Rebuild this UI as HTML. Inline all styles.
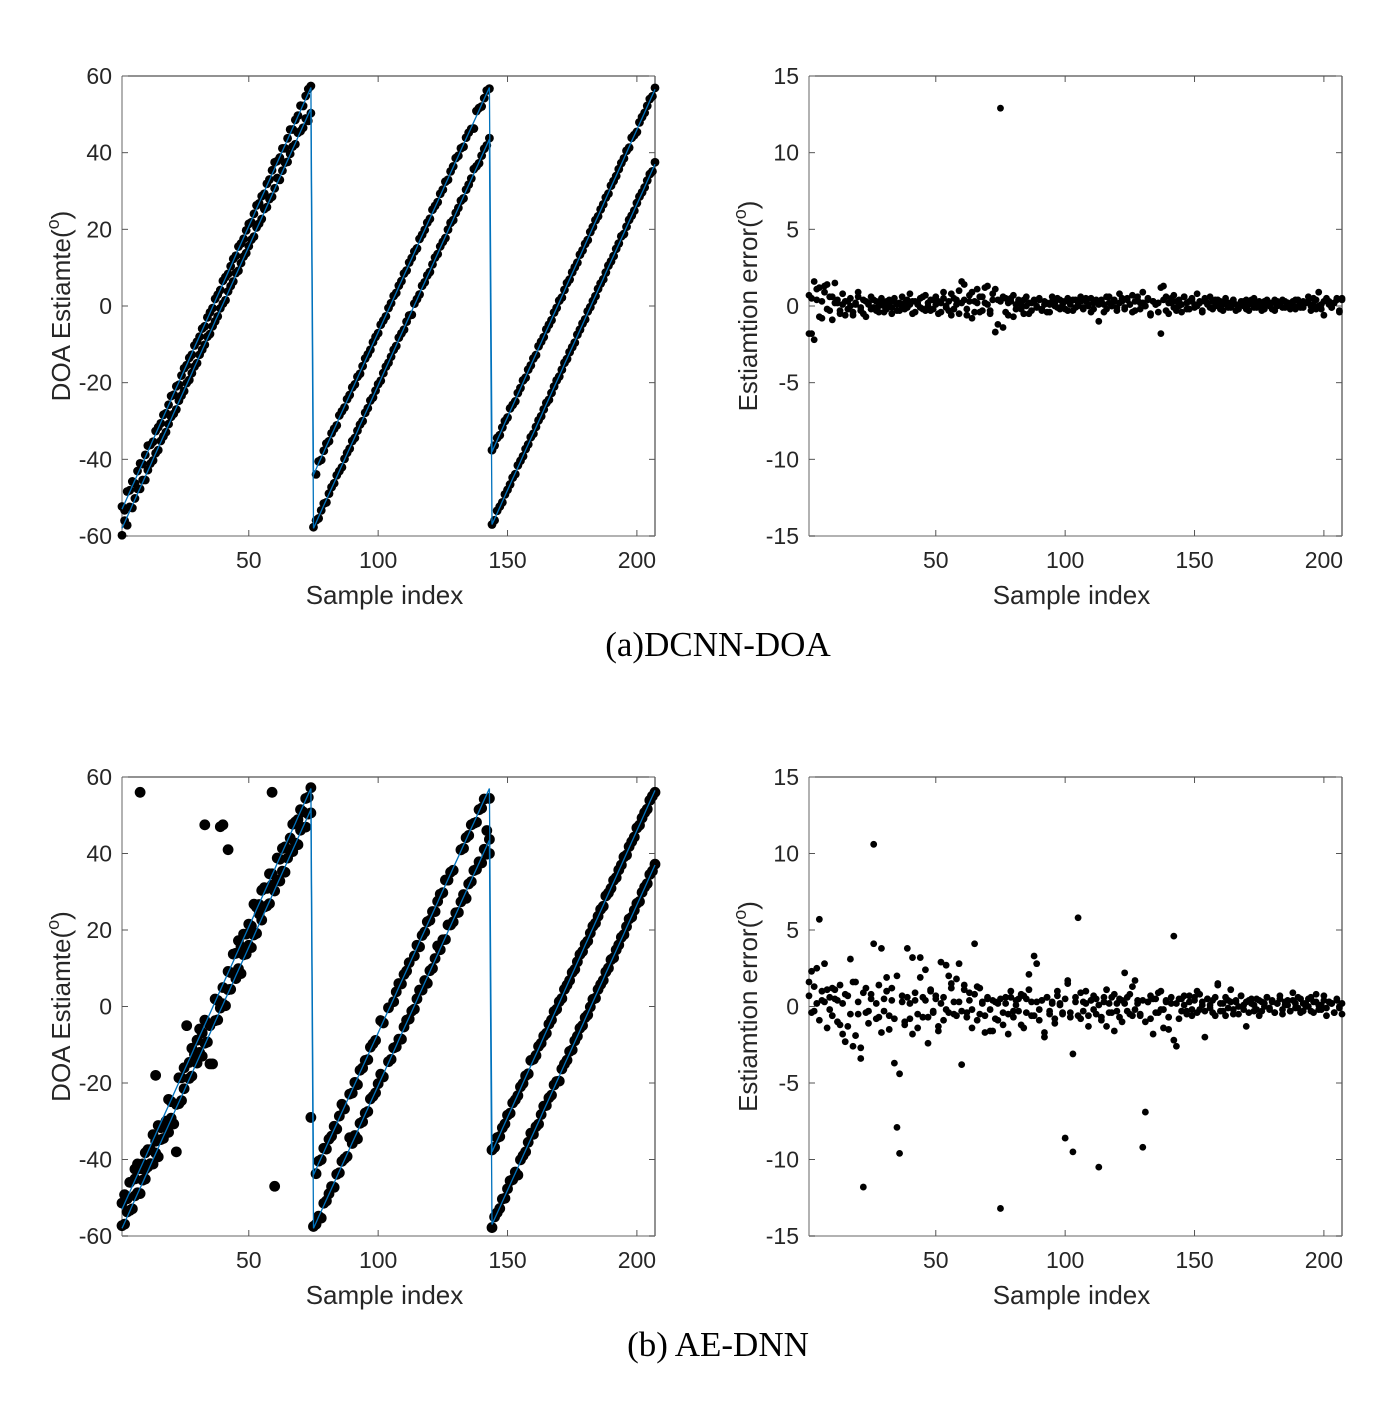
<!DOCTYPE html>
<html><head><meta charset="utf-8"><style>
body{margin:0;background:#fff}
svg text{font-family:"Liberation Sans",Arial,sans-serif;fill:#262626}
</style></head><body>
<svg id="fig" width="1398" height="1400" xmlns="http://www.w3.org/2000/svg">
<text x="718" y="656" text-anchor="middle" style="font-family:'Liberation Serif',serif;font-size:35px;fill:#000">(a)DCNN-DOA</text>
<text x="718" y="1356" text-anchor="middle" style="font-family:'Liberation Serif',serif;font-size:35px;fill:#000">(b) AE-DNN</text>
</svg>
<script>
// truth segments
const segStart=[1,75,144], segEnd=[74,143,207];
const aStart=[-53,-44,-38], aEnd=[57,57,56.5];
const bStart=[-58,-58,-57], bEnd=[51.5,43.5,37];
const xTicks=[50,100,150,200];
const doaTicks=[-60,-40,-20,0,20,40,60];
const errTicks=[-15,-10,-5,0,5,10,15];

const topErrA=[0.7,-1.8,1.6,0.4,1.2,-0.8,0.9,1.4,-0.3,0.6,1.5,0.2,-0.5,0.8,0.3,-0.2,0.5,-0.6,0.1,0.9,-0.3,0.4,-0.7,0.2,0.6,-0.1,0.3,-0.4,0.5,0.0,-0.2,0.4,-0.5,0.3,0.1,-0.3,0.6,0.2,-0.1,0.8,0.3,-0.4,0.1,0.5,-0.2,0.7,0.0,-0.3,0.4,0.6,-0.5,0.2,0.9,-0.1,0.3,-0.6,0.5,0.1,1.0,1.6,0.4,-0.2,0.7,-0.8,0.3,1.1,-0.4,0.6,0.2,1.3,-0.3,0.8,1.1,0.4,12.9,-1.4,0.5,-0.6,0.3,0.7,-0.2,0.4,0.1,-0.5,0.6,0.2,-0.3,0.4,0.0,0.5,-0.2,0.3,-0.4,0.1,0.6,0.2,-0.1,0.4,0.3,-0.2,0.5,0.1,-0.3,0.4,0.2,0.6,-0.1,0.3,0.0,0.5,-0.2,0.4,0.1,0.3,-0.4,0.6,0.2,0.0,0.4,-0.1,0.8,0.3,-0.2,0.5,0.1,0.7,-0.3,0.4,0.2,0.9,0.0,0.5,-0.6,0.3,0.1,-0.4,-1.8,1.3,0.6,-0.5,0.2,0.7,-0.3,0.4,0.1,0.6,-0.2,0.3,0.5,-0.1,0.8,0.2,-0.4,0.3,0.1,0.6,-0.2,0.4,0.0,0.3,-0.3,0.5,0.2,-0.1,0.4,0.1,-0.2,0.3,0.0,0.4,-0.3,0.2,0.5,-0.1,0.3,0.1,-0.2,0.4,0.0,0.2,-0.3,0.3,0.1,0.4,-0.1,0.2,0.0,0.3,-0.2,0.4,0.1,-0.1,0.2,0.3,0.0,0.5,-0.2,0.9,0.1,-0.6,0.4,0.3,-0.1,0.2,0.5,-0.3,0.4,0.1,0.3,-0.6];
const topErrB=[-1.8,0.5,-2.2,1.1,-0.7,0.3,1.3,-0.2,0.6,-0.9,0.2,0.4,-0.3,0.1,-0.6,0.3,0.0,-0.4,0.2,0.6,-0.1,-0.5,0.3,0.1,-0.2,0.4,-0.3,0.0,0.2,-0.4,0.3,0.1,-0.1,0.5,-0.3,0.2,0.0,-0.2,0.4,0.1,-0.5,0.3,0.2,-0.1,0.6,-0.3,0.2,0.4,-0.2,0.1,0.3,-0.4,0.5,0.0,-0.3,0.8,-0.2,0.4,-0.5,0.2,1.4,-0.6,0.3,0.9,-0.4,0.2,0.6,-0.3,1.2,0.1,-0.5,0.4,-1.7,-1.2,0.3,0.6,-0.4,0.2,0.5,-0.7,0.1,0.3,-0.2,0.4,0.0,-0.5,0.2,0.3,-0.1,0.4,-0.3,0.1,0.2,-0.4,0.3,0.0,0.5,-0.2,0.1,0.3,-0.3,0.2,0.4,-0.1,0.0,0.3,-0.2,0.5,0.1,-0.4,0.2,0.3,-1.0,0.4,0.1,-0.2,0.6,0.0,0.3,-0.3,0.2,0.5,-0.1,0.4,0.1,-0.4,0.3,0.6,-0.2,0.2,0.0,0.4,-0.5,0.3,0.1,0.2,1.2,0.4,-0.3,0.2,0.5,-0.1,0.3,0.0,-0.4,0.6,0.2,-0.2,0.4,0.1,0.0,0.3,-0.3,0.5,0.2,-0.1,0.3,0.0,0.4,-0.2,0.1,0.3,-0.1,0.2,0.4,-0.3,0.0,0.2,0.3,-0.2,0.1,0.4,-0.1,0.2,0.0,-0.3,0.3,0.1,0.2,-0.2,0.4,0.0,0.1,-0.1,0.3,0.2,-0.2,0.1,0.4,0.0,-0.1,0.3,0.2,0.6,-0.3,0.1,0.4,0.0,-0.2,0.3,0.5,0.1,-0.1,0.2,0.4,-0.4,0.5];
const botErrA=[1.6,2.3,-0.3,2.5,5.7,0.4,2.8,1.1,-0.2,1.2,0.5,-1.0,1.4,-1.8,0.8,-1.3,3.1,-2.6,1.6,-0.5,-3.4,-11.8,1.2,-0.3,0.8,10.6,-0.8,1.4,-1.7,0.5,1.9,-0.6,1.2,-3.7,-7.9,-9.6,0.7,-1.2,3.8,-0.8,3.2,0.4,-1.4,1.9,0.6,2.4,-0.7,1.1,-0.4,0.7,-1.3,2.9,0.6,-0.2,2.0,1.2,-0.5,1.8,0.3,-3.8,1.4,-0.4,0.9,-0.2,4.1,-0.9,1.2,0.3,-0.6,0.5,-1.6,0.4,-0.8,0.2,-13.2,-1.2,0.6,-0.5,1.0,-0.7,0.4,-0.3,0.8,-1.4,0.5,2.1,-0.6,3.3,0.3,-0.9,0.4,-1.7,0.6,-0.3,0.2,-1.1,0.7,0.1,-0.5,-8.6,1.7,-0.4,-9.5,0.6,5.8,-0.8,0.3,1.0,-0.6,0.4,-0.2,0.5,-10.5,-0.7,0.6,-1.3,0.2,-0.4,0.8,-0.3,0.5,-1.0,0.2,0.6,-0.5,1.3,-0.2,0.4,-0.6,-9.2,-6.9,0.3,-0.8,0.5,-0.4,0.9,-0.2,-1.4,0.4,-0.7,0.2,4.6,-2.6,0.5,-0.3,0.7,-0.5,0.3,-0.2,0.6,-0.4,0.8,0.1,-0.3,0.5,-0.1,0.4,-0.6,1.4,0.2,-0.3,0.6,-0.1,0.3,-0.5,0.4,0.0,0.7,-0.2,0.3,-0.4,0.5,0.1,-0.2,0.4,-0.3,0.2,0.6,-0.1,0.3,-0.4,0.2,0.5,-0.2,0.1,0.4,-0.3,0.9,0.2,-0.1,0.5,-0.3,0.2,0.0,0.6,-0.4,0.3,0.1,-0.2,0.7,-0.1,0.3,0.2,-0.4,0.4,0.0,-0.5,0.6];
const botErrB=[0.7,-0.4,1.3,0.2,-0.9,1.0,0.3,-1.4,0.6,-0.6,1.1,0.4,-1.2,0.2,-2.3,0.7,-0.5,1.6,-1.9,0.3,-2.7,0.9,-0.4,-1.1,0.5,4.1,0.2,-0.7,3.8,-0.3,1.0,-1.5,0.4,-0.8,2.0,-4.4,0.3,-1.0,0.6,0.2,-1.8,0.9,-0.5,3.2,-0.7,0.4,-2.4,1.0,-0.3,0.5,-1.6,0.2,-0.9,2.7,-0.4,1.5,0.3,-0.6,2.8,-0.3,1.1,-0.7,0.4,-1.4,0.8,1.3,-0.5,0.2,-1.7,0.6,-0.2,-1.6,0.3,-0.9,0.5,-0.4,0.2,-1.8,0.6,-0.3,0.1,0.5,-1.2,0.7,-0.4,1.1,0.3,-0.6,2.8,-0.2,0.4,-2.0,0.6,-0.5,0.3,-0.8,1.0,0.2,-0.4,0.5,1.5,-0.7,-3.1,0.3,-0.6,0.9,-0.3,0.2,-1.3,0.4,0.7,-0.5,0.1,-0.9,0.3,1.1,-0.4,0.6,-1.6,0.2,-0.7,0.4,2.2,-0.3,0.8,-0.6,1.7,0.2,-0.5,0.4,-1.0,0.3,0.7,-1.8,0.5,-0.4,1.0,-0.2,0.3,-1.5,0.6,-2.2,0.2,-0.8,0.5,0.1,-0.3,0.7,-0.6,0.4,1.0,-0.2,0.3,-2.0,0.5,0.1,-0.4,0.6,1.5,-0.3,0.2,-0.6,0.4,1.1,-0.2,0.3,-0.5,0.7,0.1,-1.3,0.4,0.2,-0.3,0.5,-0.6,0.3,0.0,0.6,-0.2,0.4,-0.4,0.2,0.7,-0.5,0.3,0.1,-0.3,0.4,-0.1,0.6,-0.4,0.2,0.0,0.5,-0.3,0.3,0.8,-0.2,0.1,0.4,-0.6,0.3,0.2,-0.4,0.5,-0.1,0.2,-0.5,0.3,0.6,-0.2];
// bottom-left outliers
const outX=[8,33,39,40,42,59,60,14,22,26,35,36,74,142,143,6,7,9,10];
const outY=[56,47.5,47,47.5,41,56,-47,-18,-38,-5,-15,-15,-29,46,40,-42.5,-42.5,-42.5,-42.5];

const NS="http://www.w3.org/2000/svg";
const svg=document.getElementById('fig');
function mk(tag,attrs,parent){const e=document.createElementNS(NS,tag);for(const k in attrs)e.setAttribute(k,attrs[k]);(parent||svg).appendChild(e);return e;}
function truthA(x){for(let s=0;s<3;s++){if(x>=segStart[s]&&x<=segEnd[s])return aStart[s]+(aEnd[s]-aStart[s])*(x-segStart[s])/(segEnd[s]-segStart[s]);}return null;}
function truthB(x){for(let s=0;s<3;s++){if(x>=segStart[s]&&x<=segEnd[s])return bStart[s]+(bEnd[s]-bStart[s])*(x-segStart[s])/(segEnd[s]-segStart[s]);}return null;}

function panel(name,L,R,T,B,ymin,ymax,yticks,ylabel){
  const g=mk('g',{});
  
  
  const sx=v=>L+(v-1)/(207-1)*(R-L);
  const sy=v=>B-(v-ymin)/(ymax-ymin)*(B-T);
  mk('line',{x1:L,y1:T,x2:R,y2:T,stroke:'#262626','stroke-width':1},g);
  mk('line',{x1:R,y1:T,x2:R,y2:B,stroke:'#262626','stroke-width':1},g);
  mk('line',{x1:L,y1:T,x2:L,y2:B,stroke:'#999','stroke-width':1.5},g);
  mk('line',{x1:L,y1:B,x2:R,y2:B,stroke:'#999','stroke-width':1.5},g);
  xTicks.forEach(t=>{const x=sx(t);
    mk('line',{x1:x,y1:B,x2:x,y2:B-6,stroke:'#555'},g);
    mk('line',{x1:x,y1:T,x2:x,y2:T+6,stroke:'#555'},g);
    const tx=mk('text',{x:x,y:B+32,'text-anchor':'middle','font-size':23},g);tx.textContent=t;
    
    });
  yticks.forEach(t=>{const y=sy(t);
    mk('line',{x1:L,y1:y,x2:L+6,y2:y,stroke:'#555'},g);
    mk('line',{x1:R,y1:y,x2:R-6,y2:y,stroke:'#555'},g);
    const tx=mk('text',{x:L-10,y:y+8,'text-anchor':'end','font-size':23},g);tx.textContent=t;
    
    });
  const xl=mk('text',{x:(L+R)/2-4,y:B+68,'text-anchor':'middle','font-size':26},g);xl.textContent='Sample index';
  
  
  const cx=L-52,cy=(T+B)/2;
  const yl=mk('text',{x:cx,y:cy,'text-anchor':'middle','font-size':26,transform:`rotate(-90 ${cx} ${cy})`},g);
  yl.innerHTML=ylabel+'(<tspan dy="-11" font-size="18">o</tspan><tspan dy="11">)</tspan>';
  
  
  return {g,sx,sy};
}

function doaPanel(name,T,B,eA,eB,r,ox,oy){
  const p=panel(name,122,655,T,B,-60,60,doaTicks,'DOA Estiamte');
  const dots=mk('g',{fill:'#000'},p.g);
  const add=(x,y)=>{const c=mk('circle',{cx:p.sx(x),cy:p.sy(y),r:r},dots);
    
    };
  eA.forEach((e,i)=>{const x=i+1,t=truthA(x);if(t!==null&&Math.abs(e)<3)add(x,t+e);});
  eB.forEach((e,i)=>{const x=i+1,t=truthB(x);if(t!==null&&Math.abs(e)<3)add(x,t+e);});
  ox.forEach((x,i)=>add(x,oy[i]));
  [truthA,truthB].forEach((f,k)=>{let d='';
    for(let x=1;x<=207;x++){const v=f(x);if(v===null)continue;d+=(d?'L':'M')+p.sx(x).toFixed(1)+','+p.sy(v).toFixed(1);}
    const pl=mk('path',{d:d,fill:'none',stroke:'#0072BD','stroke-width':1.3},p.g);
    
    });
}
function errPanel(name,T,B,eA,eB){
  const p=panel(name,809,1342,T,B,-15,15,errTicks,'Estiamtion error');
  const dots=mk('g',{fill:'#000'},p.g);
  [eA,eB].forEach(arr=>arr.forEach((e,i)=>{const x=i+1;if(x>207)return;
    const c=mk('circle',{cx:p.sx(x),cy:p.sy(e),r:3.4},dots);
    
    }));
}
doaPanel('doa-panel-a',76,536,topErrA,topErrB,4.4,[],[]);
errPanel('error-panel-a',76,536,topErrA,topErrB);
doaPanel('doa-panel-b',777,1236,botErrA,botErrB,5.4,outX,outY);
errPanel('error-panel-b',777,1236,botErrA,botErrB);
</script>
</body></html>
